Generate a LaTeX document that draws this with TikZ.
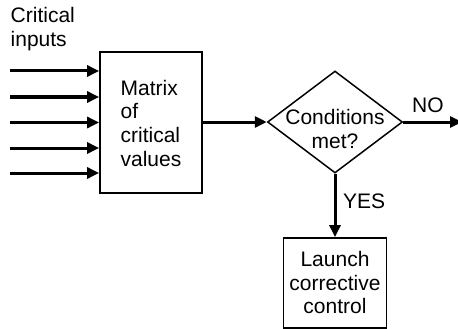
\documentclass[tikz,border=0pt]{standalone}
\usepackage{fontspec}
\setmainfont{Liberation Sans}
\usetikzlibrary{arrows.meta,shapes.geometric}
\begin{document}
\begin{tikzpicture}[x=1pt,y=-1pt,
  txt/.style={inner sep=0pt,font=\fontsize{21}{23.7}\selectfont},
  boxnode/.style={draw,line width=1.8pt,rectangle,inner sep=0pt},
  arr/.style={line width=3pt,-{Triangle[length=12pt,width=11pt]}}]
\useasboundingbox (0,0) rectangle (458,329);
\clip (0,0) rectangle (458,329);
\node[boxnode,minimum width=102pt,minimum height=141pt] (m) at (151,122.5) {};
\node[txt,align=left] (mt) at (151,123.2) {Matrix\\of\\critical\\values};
\node[draw,diamond,line width=1.5pt,inner sep=0pt,minimum width=135pt,minimum height=102pt] (d) at (335,122) {};
\node[txt,align=center] (dt) at (335,129.3) {Conditions\\met?};
\node[boxnode,minimum width=103pt,minimum height=90pt] (l) at (335,283) {};
\node[txt,align=center] (lt) at (335,282.5) {Launch\\corrective\\control};
\node[txt,anchor=north west,align=left] (ci) at (10.5,7) {Critical\\inputs};
\node[txt,anchor=base west] (no) at (412,112) {NO};
\node[txt,anchor=base west] (yes) at (343,208) {YES};
\foreach \i/\y in {1/71,2/97,3/122.5,4/148,5/173}{
  \coordinate (in\i) at (10,\y);
  \draw[arr] (in\i) -- (in\i -| m.west);
}
\draw[arr] (m.east |- d.west) -- (d.west);
\coordinate (noend) at (462,122);
\draw[arr] (d.east) -- (noend);
\draw[arr] (d.south) -- (l.north);
\end{tikzpicture}
\end{document}
